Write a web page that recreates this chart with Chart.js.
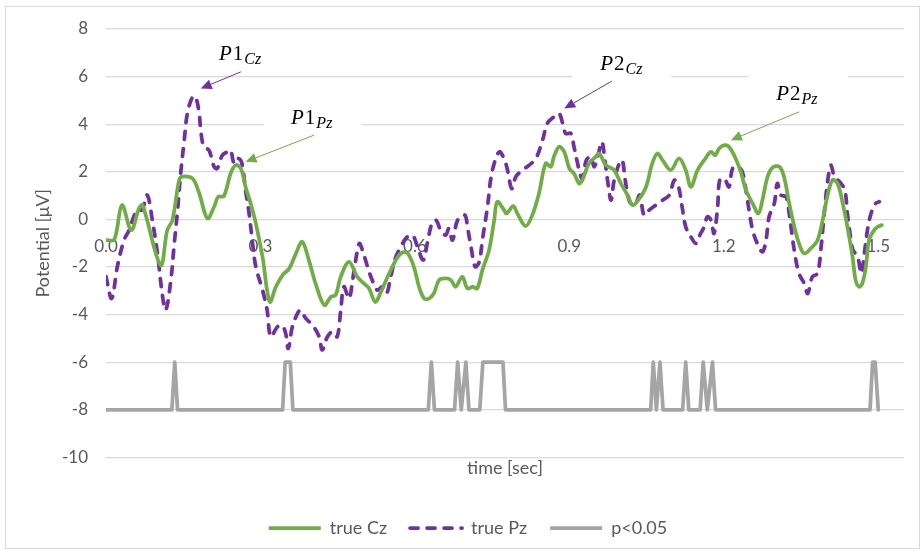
<!DOCTYPE html>
<html>
<head>
<meta charset="utf-8">
<script src="https://cdn.jsdelivr.net/npm/chart.js@4.4.1/dist/chart.umd.min.js"></script>
<style>
  html, body { margin: 0; padding: 0; background: #fff; }
  canvas { display: block; }
</style>
</head>
<body>
<canvas id="erpChart" width="923" height="554"></canvas>
<script>
// true Cz (green, solid)
const czTime = [0.000,0.016,0.031,0.049,0.064,0.071,0.106,0.119,0.129,0.142,0.148,0.168,0.181,0.197,0.210,0.218,0.229,0.242,0.252,0.262,0.271,0.281,0.291,0.304,0.318,0.330,0.343,0.356,0.369,0.381,0.394,0.407,0.424,0.437,0.446,0.456,0.472,0.488,0.501,0.511,0.523,0.534,0.547,0.563,0.573,0.585,0.598,0.608,0.618,0.628,0.637,0.647,0.660,0.670,0.679,0.692,0.702,0.712,0.721,0.731,0.744,0.754,0.760,0.773,0.778,0.791,0.799,0.815,0.828,0.841,0.854,0.864,0.870,0.880,0.890,0.900,0.909,0.919,0.925,0.938,0.951,0.958,0.971,0.987,1.000,1.013,1.023,1.036,1.049,1.061,1.071,1.081,1.097,1.113,1.126,1.136,1.149,1.162,1.175,1.183,1.191,1.201,1.210,1.223,1.233,1.243,1.256,1.267,1.275,1.285,1.295,1.308,1.317,1.327,1.337,1.346,1.356,1.369,1.382,1.392,1.401,1.411,1.421,1.431,1.440,1.450,1.456,1.463,1.469,1.476,1.482,1.492,1.499,1.507];
const czValues = [-0.87,-0.85,0.60,-0.45,0.46,0.60,-1.92,-0.45,-0.03,1.65,1.80,1.72,1.10,0.04,0.53,0.95,0.98,1.93,2.28,2.14,1.37,0.67,-0.17,-1.57,-3.46,-2.83,-2.34,-2.06,-1.43,-0.94,-1.71,-2.69,-3.60,-3.25,-3.18,-2.41,-1.78,-2.41,-2.69,-2.90,-3.47,-3.04,-2.41,-1.71,-1.43,-1.40,-1.99,-2.83,-3.32,-3.32,-3.10,-2.55,-2.48,-2.55,-2.83,-2.41,-2.90,-2.83,-2.90,-2.13,-1.29,-0.03,0.74,0.40,0.25,0.56,0.25,-0.28,0.18,1.09,2.35,2.21,2.63,3.05,2.84,2.14,1.93,1.51,1.65,2.35,2.63,2.77,2.28,2.07,1.51,1.02,0.60,0.88,1.37,2.35,2.77,2.49,2.07,2.56,2.07,1.37,2.07,2.49,2.84,2.70,2.98,3.12,3.05,2.56,1.99,1.23,0.67,0.25,0.81,1.79,2.18,2.21,1.79,0.67,-0.31,-1.01,-1.43,-1.22,-0.87,-0.03,0.95,1.65,1.51,0.67,-0.31,-1.57,-2.55,-2.83,-2.69,-1.99,-0.87,-0.45,-0.31,-0.24];

// true Pz (purple, dashed)
const pzTime = [0.000,0.011,0.022,0.035,0.045,0.054,0.061,0.070,0.080,0.090,0.100,0.109,0.116,0.126,0.132,0.139,0.145,0.152,0.158,0.168,0.174,0.181,0.184,0.190,0.200,0.210,0.216,0.226,0.236,0.242,0.249,0.257,0.264,0.271,0.278,0.284,0.291,0.304,0.313,0.320,0.333,0.342,0.349,0.354,0.362,0.372,0.378,0.388,0.401,0.414,0.420,0.430,0.440,0.449,0.456,0.462,0.472,0.479,0.485,0.492,0.498,0.508,0.517,0.527,0.537,0.545,0.553,0.563,0.573,0.582,0.595,0.605,0.616,0.624,0.633,0.641,0.650,0.660,0.666,0.673,0.683,0.697,0.702,0.709,0.717,0.725,0.731,0.741,0.747,0.754,0.764,0.773,0.780,0.788,0.796,0.809,0.822,0.835,0.848,0.857,0.870,0.880,0.887,0.893,0.903,0.909,0.916,0.919,0.925,0.933,0.942,0.948,0.955,0.963,0.969,0.976,0.981,0.987,0.997,1.003,1.008,1.016,1.023,1.029,1.037,1.045,1.055,1.068,1.081,1.094,1.104,1.112,1.119,1.126,1.136,1.146,1.155,1.162,1.168,1.175,1.181,1.188,1.192,1.201,1.210,1.217,1.227,1.236,1.243,1.249,1.256,1.265,1.275,1.282,1.288,1.298,1.304,1.311,1.321,1.327,1.333,1.340,1.346,1.356,1.363,1.372,1.382,1.389,1.395,1.402,1.408,1.415,1.425,1.435,1.440,1.447,1.451,1.460,1.467,1.473,1.479,1.486,1.495,1.502];
const pzValues = [-2.41,-3.32,-1.99,-0.87,-0.45,0.11,0.39,0.40,1.02,-0.03,-1.43,-3.10,-3.81,-2.55,-1.15,0.39,1.93,3.33,4.45,5.15,5.15,4.45,3.75,3.05,2.91,2.21,2.14,2.70,2.84,2.91,2.35,2.56,2.35,1.23,0.25,-0.87,-1.99,-2.97,-3.81,-4.93,-4.51,-4.45,-4.79,-5.42,-4.51,-3.95,-3.81,-4.16,-4.44,-4.93,-5.49,-4.93,-4.72,-4.93,-3.81,-2.83,-3.32,-2.55,-1.71,-1.01,-1.29,-1.99,-2.55,-2.97,-2.83,-3.11,-2.41,-1.57,-1.15,-0.80,-0.66,-1.15,-1.71,-1.01,-0.17,-0.03,-0.45,-0.66,-0.38,-0.87,-0.03,0.18,-0.31,-1.15,-1.99,-1.78,-0.87,0.53,1.65,2.35,2.84,2.56,2.07,1.30,1.79,2.07,2.28,2.56,3.33,4.03,4.31,4.45,4.03,3.61,3.61,3.05,2.35,2.07,1.72,2.49,2.63,2.21,2.63,3.26,2.49,1.37,0.81,1.65,2.35,2.49,1.72,0.81,0.60,0.67,1.02,0.18,0.39,0.60,0.81,1.02,1.65,1.37,0.53,-0.31,-0.73,-1.01,-0.59,-0.31,0.11,-0.03,-0.59,0.53,1.65,1.72,1.37,2.14,2.21,1.99,1.23,0.39,-0.45,-1.01,-1.36,-0.87,0.11,0.67,1.51,1.02,0.95,0.25,-0.73,-1.71,-2.27,-2.69,-3.11,-2.41,-2.27,-1.15,0.25,1.65,2.28,1.79,1.58,1.23,0.25,-0.87,-1.29,-1.57,-2.27,-1.43,-0.45,0.25,0.67,0.74];

// p<0.05 (grey): -8 baseline, -6 where significant
const sigTime = [0.000,0.128,0.1335,0.139,0.343,0.348,0.358,0.363,0.626,0.632,0.638,0.677,0.683,0.690,0.699,0.705,0.726,0.732,0.771,0.776,1.058,1.063,1.069,1.076,1.082,1.120,1.126,1.132,1.154,1.160,1.168,1.178,1.184,1.484,1.489,1.494,1.500];
const sigValues = [-8,-8,-6,-8,-8,-6,-6,-8,-8,-6,-8,-8,-6,-8,-6,-8,-8,-6,-6,-8,-8,-6,-8,-6,-8,-8,-6,-8,-8,-6,-8,-6,-8,-8,-6,-6,-8];

const seriesLabels = ["true Cz", "true Pz", "p<0.05"];
const xTickValues = [0.0, 0.3, 0.6, 0.9, 1.2, 1.5];

// peak labels: [main, subscript, colour, text x, text baseline y, arrow tail x, y, arrow tip x, y, white box]
const peakNotes = [
  ["P1", "Cz", "#7030A0", 0.2195, 6.69, 0.262, 6.20, 0.184, 5.50, null],
  ["P1", "Pz", "#70AD47", 0.3594, 4.00, 0.404, 3.54, 0.271, 2.42, [0.307, 5.0, 0.497, 3.4]],
  ["P2", "Cz", "#7030A0", 0.9598, 6.27, 0.9825, 5.81, 0.890, 4.66, [0.905, 7.3, 1.098, 5.5]],
  ["P2", "Pz", "#70AD47", 1.3017, 5.01, 1.3464, 4.52, 1.2137, 3.33, [1.247, 6.2, 1.442, 4.6]]
];

const toPoints = (ts, vs) => ts.map((t, i) => ({ x: t, y: vs[i] }));

const frame = {
  id: "frame",
  beforeDraw(chart) {
    const ctx = chart.ctx;
    ctx.save();
    ctx.fillStyle = "#fff";
    ctx.fillRect(0, 0, chart.width, chart.height);
    ctx.strokeStyle = "#D9D9D9";
    ctx.lineWidth = 1;
    ctx.strokeRect(5.5, 6.5, 914, 542);
    ctx.restore();
  }
};

const peakLabels = {
  id: "peakLabels",
  beforeDatasetsDraw(chart) {
    const { ctx, scales: { x, y } } = chart;
    ctx.save();
    ctx.fillStyle = "#fff";
    peakNotes.forEach(n => {
      const b = n[9];
      if (!b) return;
      const x1 = x.getPixelForValue(b[0]), y1 = y.getPixelForValue(b[1]);
      const x2 = x.getPixelForValue(b[2]), y2 = y.getPixelForValue(b[3]);
      ctx.fillRect(x1, y1, x2 - x1, y2 - y1);
    });
    ctx.restore();
  },
  afterDatasetsDraw(chart) {
    const { ctx, scales: { x, y } } = chart;
    ctx.save();
    peakNotes.forEach(n => {
      const tx = x.getPixelForValue(n[3]), ty = y.getPixelForValue(n[4]);
      ctx.fillStyle = "#000";
      ctx.textBaseline = "alphabetic";
      ctx.textAlign = "left";
      ctx.font = "italic 21px 'Liberation Serif'";
      ctx.fillText(n[0][0], tx, ty);
      let w = ctx.measureText(n[0][0]).width;
      ctx.font = "21px 'Liberation Serif'";
      ctx.fillText(n[0].slice(1), tx + w + 1, ty);
      w += ctx.measureText(n[0].slice(1)).width + 1;
      ctx.font = "italic 16px 'Liberation Serif'";
      ctx.fillText(n[1], tx + w + 1, ty + 4);

      const ax = x.getPixelForValue(n[5]), ay = y.getPixelForValue(n[6]);
      const bx = x.getPixelForValue(n[7]), by = y.getPixelForValue(n[8]);
      const ang = Math.atan2(by - ay, bx - ax);
      const head = 11, half = 5;
      const hx = bx - head * Math.cos(ang), hy = by - head * Math.sin(ang);
      ctx.strokeStyle = n[2];
      ctx.fillStyle = n[2];
      ctx.lineWidth = 1;
      ctx.beginPath();
      ctx.moveTo(ax, ay);
      ctx.lineTo(hx, hy);
      ctx.stroke();
      ctx.beginPath();
      ctx.moveTo(bx, by);
      ctx.lineTo(hx + half * Math.sin(ang), hy - half * Math.cos(ang));
      ctx.lineTo(hx - half * Math.sin(ang), hy + half * Math.cos(ang));
      ctx.closePath();
      ctx.fill();
    });
    ctx.restore();
  }
};

const textColor = "#595959";
const titleFont = { family: "Lato, 'Open Sans', sans-serif", size: 18 };
const tickFont = { family: "Lato, 'Open Sans', sans-serif", size: 17 };

new Chart(document.getElementById("erpChart").getContext("2d"), {
  type: "line",
  data: {
    datasets: [
      {
        label: seriesLabels[0],
        data: toPoints(czTime, czValues),
        borderColor: "#70AD47",
        backgroundColor: "#70AD47",
        borderWidth: 3.75,
        tension: 0.35,
        borderCapStyle: "round",
        borderJoinStyle: "round",
        pointRadius: 0
      },
      {
        label: seriesLabels[1],
        data: toPoints(pzTime, pzValues),
        borderColor: "#7030A0",
        backgroundColor: "#7030A0",
        borderWidth: 3.75,
        borderDash: [8, 9],
        tension: 0.35,
        borderCapStyle: "round",
        borderJoinStyle: "round",
        pointRadius: 0
      },
      {
        label: seriesLabels[2],
        data: toPoints(sigTime, sigValues),
        borderColor: "#A5A5A5",
        backgroundColor: "#A5A5A5",
        borderWidth: 3.75,
        tension: 0,
        borderCapStyle: "round",
        borderJoinStyle: "round",
        pointRadius: 0
      }
    ]
  },
  options: {
    responsive: false,
    animation: false,
    layout: { padding: { left: 32, right: 19, top: 29, bottom: 7 } },
    plugins: {
      tooltip: { enabled: false },
      legend: {
        position: "bottom",
        labels: {
          color: textColor,
          font: titleFont,
          usePointStyle: true,
          pointStyle: "line",
          pointStyleWidth: 52,
          padding: 23,
          generateLabels: (chart) => chart.data.datasets.map((ds, i) => ({
            text: ds.label,
            datasetIndex: i,
            fillStyle: ds.borderColor,
            strokeStyle: ds.borderColor,
            fontColor: textColor,
            lineWidth: ds.borderWidth,
            lineDash: ds.borderDash || [],
            lineCap: ds.borderDash ? "round" : "butt",
            pointStyle: "line",
            hidden: false
          }))
        }
      }
    },
    scales: {
      x: {
        type: "linear",
        min: 0,
        max: 1.55,
        grid: { display: false, drawTicks: false },
        border: { display: false },
        ticks: { display: false },
        title: { display: true, text: "time [sec]", color: textColor, font: titleFont, padding: { top: 0, bottom: 17 } }
      },
      xTicks: {
        type: "linear",
        axis: "x",
        position: { y: 0 },
        min: 0,
        max: 1.55,
        afterBuildTicks: (s) => { s.ticks = xTickValues.map(v => ({ value: v })); },
        grid: { display: false, drawTicks: false },
        border: { display: false },
        ticks: { color: textColor, font: tickFont, padding: 17, maxRotation: 0, callback: (v) => Number(v).toFixed(1) }
      },
      y: {
        min: -10,
        max: 8,
        ticks: { stepSize: 2, color: textColor, font: tickFont, padding: 18 },
        grid: { color: "#D9D9D9", lineWidth: 1.25, drawTicks: false },
        border: { display: false },
        title: { display: true, text: "Potential [μV]", color: textColor, font: titleFont, padding: 0 },
        afterFit: (s) => { s.width = 74; }
      }
    }
  },
  plugins: [frame, peakLabels]
});
</script>
</body>
</html>
